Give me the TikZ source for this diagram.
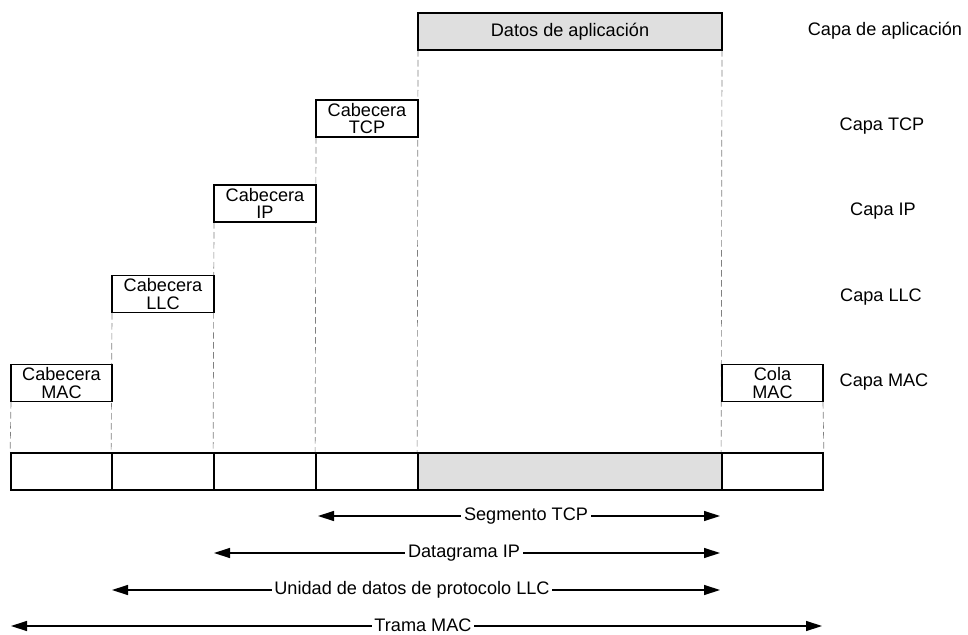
\documentclass[tikz,border=0pt]{standalone}
\usepackage{fontspec}
\setmainfont{Liberation Sans}
\usetikzlibrary{arrows.meta}
\begin{document}
\begin{tikzpicture}[x=0.75pt,y=-0.75pt,
  font=\fontsize{13.6}{12.8}\selectfont,
  hdr/.style={draw,line width=1.3pt,minimum height=27.75pt,inner sep=0pt,align=center,fill=white},
  cell/.style={draw,line width=1.3pt,minimum height=27.75pt,inner sep=0pt},
  guide/.style={draw=gray,line width=0.5pt,dash pattern=on 5pt off 2.5pt},
  arr/.style={line width=1pt,{Triangle[length=12pt,width=7.5pt]}-{Triangle[length=12pt,width=7.5pt]}},
  lab/.style={fill=white,inner xsep=2pt,inner ysep=0pt},
  layer/.style={inner sep=0pt}]
\useasboundingbox (0,0) rectangle (968,635);
% bottom row
\node[cell,minimum width=75.75pt] (d1) at (61.5,471.5) {};
\node[cell,minimum width=76.5pt] (d2) at (163,471.5) {};
\node[cell,minimum width=76.5pt] (d3) at (265,471.5) {};
\node[cell,minimum width=76.5pt] (d4) at (367,471.5) {};
\node[cell,minimum width=228pt,fill=gray!25] (d5) at (570,471.5) {};
\node[cell,minimum width=75.75pt] (d6) at (772.5,471.5) {};
% guides
\draw[guide] (418,50) coordinate (g1) -- (d5.north west);
\draw[guide] (722,50) coordinate (g2) -- (d6.north west);
\draw[guide] (316,137) coordinate (g3) -- (d4.north west);
\draw[guide] (214,222) coordinate (g4) -- (d3.north west);
\draw[guide] (112,313) coordinate (g5) -- (d2.north west);
\draw[guide] (11,402) coordinate (g6) -- (d1.north west);
\draw[guide] (823,402) coordinate (g7) -- (d6.north east);
% header boxes
\node[hdr,minimum width=228pt,fill=gray!25] (app) at (570,31.5) {Datos de aplicación};
\node[hdr,minimum width=76.5pt] (tcp) at (367,118.5) {Cabecera\\TCP};
\node[hdr,minimum width=76.5pt] (ip) at (265,203.5) {Cabecera\\IP};
\node[hdr,minimum width=76.5pt] (llc) at (163,294) {Cabecera\\LLC};
\node[hdr,minimum width=75.75pt] (mac) at (61.5,383) {Cabecera\\MAC};
\node[hdr,minimum width=75.75pt] (cola) at (772.5,383) {Cola\\MAC};
% layer labels
\node[layer] (l1) at (885,31) {Capa de aplicación};
\node[layer] (l2) at (882,126) {Capa TCP};
\node[layer] (l3) at (883,211) {Capa IP};
\node[layer] (l4) at (881,297) {Capa LLC};
\node[layer] (l5) at (884,382) {Capa MAC};
% arrows
\coordinate (a1) at (318,516); \coordinate (b1) at (720,516);
\coordinate (a2) at (214,553); \coordinate (b2) at (720,553);
\coordinate (a3) at (112,590); \coordinate (b3) at (720,590);
\coordinate (a4) at (11,626);  \coordinate (b4) at (822,626);
\draw[arr] (a1) -- (b1);
\draw[arr] (a2) -- (b2);
\draw[arr] (a3) -- (b3);
\draw[arr] (a4) -- (b4);
\node[lab] (t1) at (526,516) {Segmento TCP};
\node[lab] (t2) at (464,553) {Datagrama IP};
\node[lab] (t3) at (412,590) {Unidad de datos de protocolo LLC};
\node[lab] (t4) at (423,625) {Trama MAC};
\end{tikzpicture}
\end{document}
